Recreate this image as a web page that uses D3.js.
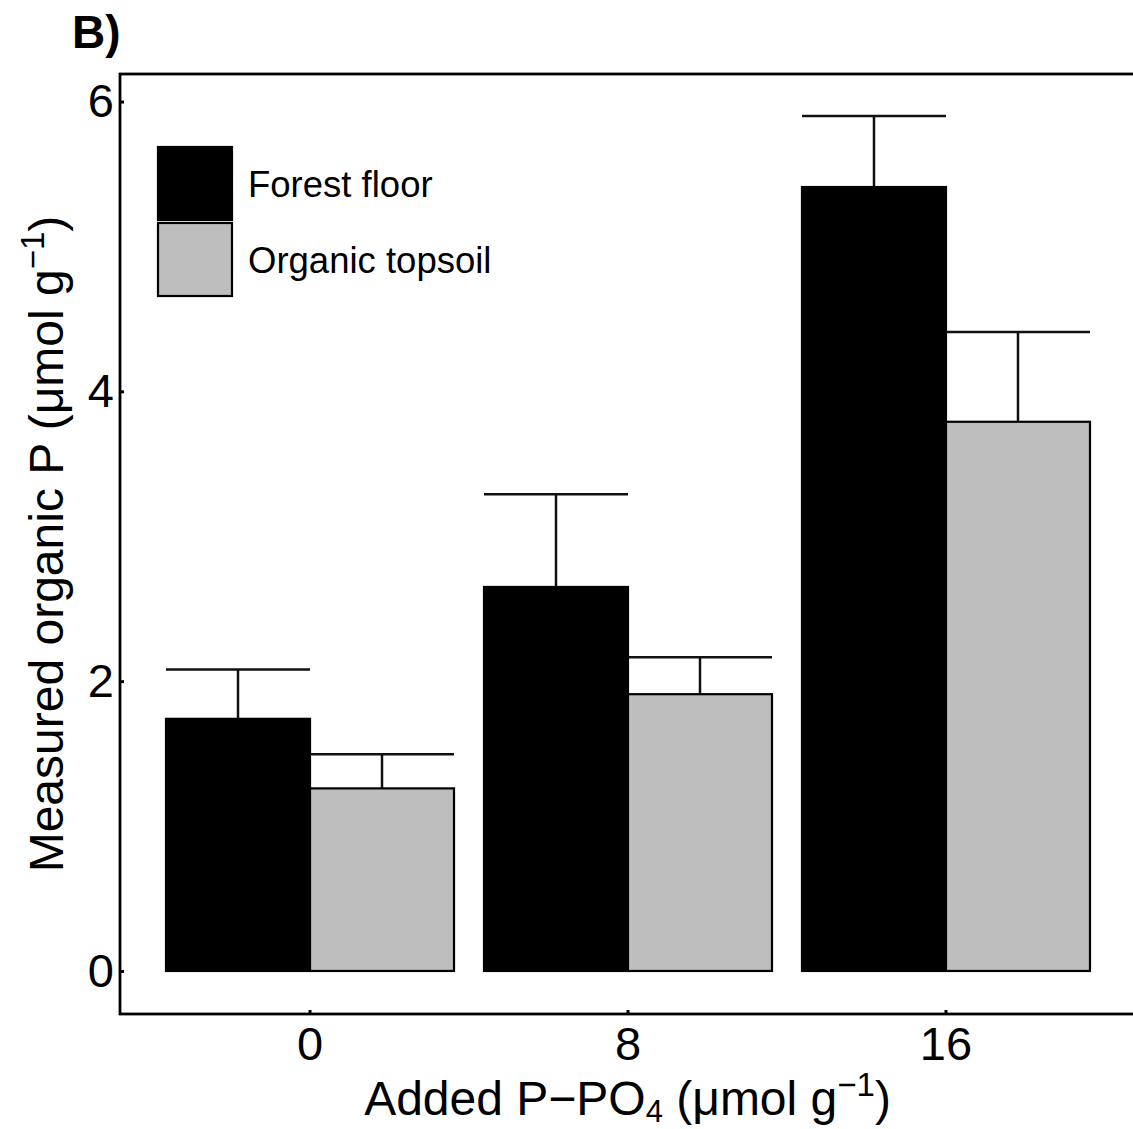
<!DOCTYPE html>
<html>
<head>
<meta charset="utf-8">
<script src="https://cdn.jsdelivr.net/npm/d3@7"></script>
<style>
  body { margin: 0; background: #fff; }
  text { font-family: "Liberation Sans", Arial, Helvetica, sans-serif; fill: #000; }
</style>
</head>
<body>
<div id="graph"></div>
<script>
  // values (means and standard errors)
  const doses = ["0", "8", "16"];
  const seriesNames = ["Forest floor", "Organic topsoil"];
  const forestFloor = [1.74, 2.65, 5.41];
  const forestFloorSE = [0.34, 0.64, 0.49];
  const organicTopsoil = [1.26, 1.91, 3.79];
  const organicTopsoilSE = [0.235, 0.255, 0.62];
  const yTicks = [0, 2, 4, 6];
  const fills = ["#000000", "#bebebe"];

  const width = 1133;
  const height = 1129;
  const plot = ({left: 120, right: 1135, top: 74, bottom: 1014});

  const rows = [];
  doses.forEach(function(d, i) {
    rows.push({dose: d, series: seriesNames[0], mean: forestFloor[i], se: forestFloorSE[i]});
    rows.push({dose: d, series: seriesNames[1], mean: organicTopsoil[i], se: organicTopsoilSE[i]});
  });

  let svg = d3.select("#graph").append("svg")
    .attr("width", width)
    .attr("height", height);

  let x0 = d3.scaleBand()
    .domain(doses)
    .range([151, 1105])
    .paddingInner(0.0943)
    .paddingOuter(0.0472);
  let x1 = d3.scaleBand()
    .domain(seriesNames)
    .range([0, x0.bandwidth()]);
  let y = d3.scaleLinear()
    .domain([-0.297, 6.19])
    .range([plot.bottom, plot.top]);
  let color = d3.scaleOrdinal().domain(seriesNames).range(fills);

  // bars
  svg.append("g").selectAll("rect")
    .data(rows)
    .enter()
    .append("rect")
    .attr("x", d => x0(d.dose) + x1(d.series))
    .attr("y", d => y(d.mean))
    .attr("width", x1.bandwidth())
    .attr("height", d => y(0) - y(d.mean))
    .style("fill", d => color(d.series))
    .style("stroke", "#000")
    .style("stroke-width", 2.2);

  // error bars (upper only), cap spans the bar
  let err = svg.append("g")
    .style("stroke", "#111")
    .style("stroke-width", 2.5);
  err.selectAll(".stem")
    .data(rows)
    .enter()
    .append("line")
    .attr("class", "stem")
    .attr("x1", d => x0(d.dose) + x1(d.series) + x1.bandwidth() / 2)
    .attr("x2", d => x0(d.dose) + x1(d.series) + x1.bandwidth() / 2)
    .attr("y1", d => y(d.mean))
    .attr("y2", d => y(d.mean + d.se));
  err.selectAll(".cap")
    .data(rows)
    .enter()
    .append("line")
    .attr("class", "cap")
    .attr("x1", d => x0(d.dose) + x1(d.series))
    .attr("x2", d => x0(d.dose) + x1(d.series) + x1.bandwidth())
    .attr("y1", d => y(d.mean + d.se))
    .attr("y2", d => y(d.mean + d.se));

  // frame (right side falls outside the picture)
  svg.append("rect")
    .attr("x", plot.left)
    .attr("y", plot.top)
    .attr("width", plot.right - plot.left)
    .attr("height", plot.bottom - plot.top)
    .style("fill", "none")
    .style("stroke", "#000")
    .style("stroke-width", 2.8);

  // axes
  let y_axis = d3.axisLeft(y)
    .tickValues(yTicks)
    .tickFormat(d3.format("d"))
    .tickSize(-4)
    .tickPadding(6);
  let gy = svg.append("g")
    .attr("transform", `translate(${plot.left},0)`)
    .call(y_axis);
  let x_axis = d3.axisBottom(x0)
    .tickSize(-4)
    .tickPadding(13);
  let gx = svg.append("g")
    .attr("transform", `translate(0,${plot.bottom})`)
    .call(x_axis);
  [gx, gy].forEach(function(g) {
    g.select(".domain").remove();
    g.selectAll(".tick line").style("stroke", "#000").style("stroke-width", 3);
    g.selectAll(".tick text")
      .style("font-family", '"Liberation Sans", Arial, sans-serif')
      .style("font-size", "47px")
      .style("fill", "#000");
  });

  // axis titles
  let xlab = svg.append("text")
    .attr("x", (plot.left + plot.right) / 2)
    .attr("y", 1115)
    .style("text-anchor", "middle")
    .style("font-size", "48px");
  xlab.append("tspan").text("Added P\u2212PO");
  xlab.append("tspan").attr("dy", 7).style("font-size", "31px").text("4");
  xlab.append("tspan").attr("dy", -7).text(" (\u03bcmol g");
  xlab.append("tspan").attr("dy", -19).style("font-size", "33px").text("\u22121");
  xlab.append("tspan").attr("dy", 19).text(")");

  let ylab = svg.append("text")
    .attr("transform", `translate(63,${(plot.top + plot.bottom) / 2}) rotate(-90)`)
    .style("text-anchor", "middle")
    .style("font-size", "48px");
  ylab.append("tspan").text("Measured organic P (\u03bcmol g");
  ylab.append("tspan").attr("dy", -19).style("font-size", "33px").text("\u22121");
  ylab.append("tspan").attr("dy", 19).text(")");

  // panel letter
  svg.append("text")
    .attr("x", 72)
    .attr("y", 48)
    .style("font-size", "46px")
    .style("font-weight", "bold")
    .text("B)");

  // legend
  let legend = svg.append("g").selectAll("g")
    .data(seriesNames)
    .enter()
    .append("g")
    .attr("transform", (d, i) => `translate(158,${147 + i * 76})`);
  legend.append("rect")
    .attr("width", 74)
    .attr("height", 73)
    .style("fill", d => color(d))
    .style("stroke", "#000")
    .style("stroke-width", 2.2);
  legend.append("text")
    .attr("x", 90)
    .attr("y", 37)
    .attr("dy", "0.35em")
    .style("font-size", "36.5px")
    .text(d => d);
</script>
</body>
</html>
